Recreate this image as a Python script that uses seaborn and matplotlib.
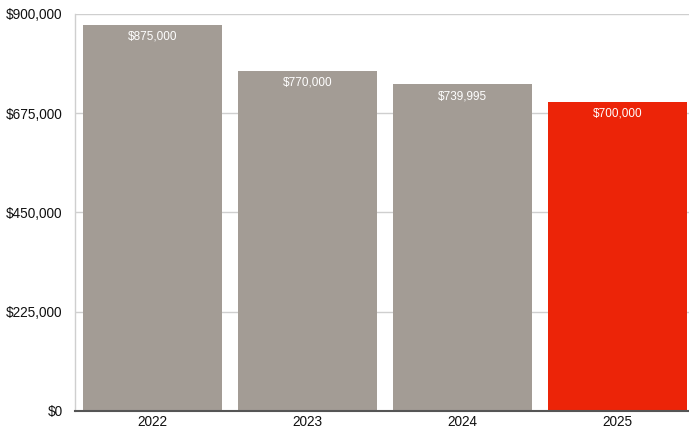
import pandas as pd
import seaborn as sns
import matplotlib.pyplot as plt
from matplotlib.ticker import FuncFormatter

years = ["2022", "2023", "2024", "2025"]
prices = [875000, 770000, 739995, 700000]
bar_colors = ["#a39c95", "#a39c95", "#a39c95", "#ec2408"]
yticks = [0, 225000, 450000, 675000, 900000]

df = pd.DataFrame({"year": years, "price": prices})

sns.set_style("white")
plt.rcParams["font.family"] = ["Liberation Sans", "DejaVu Sans"]

fig = plt.figure(figsize=(6.89, 4.33), dpi=100)
ax = fig.add_axes([0.109, 0.051, 0.891, 0.917])

sns.barplot(data=df, x="year", y="price", hue="year", palette=bar_colors,
            width=0.9, saturation=1, legend=False, ax=ax, zorder=3,
            linewidth=0)

for i, v in enumerate(prices):
    ax.text(i, v - 13000, f"${v:,.0f}", ha="center", va="top",
            color="white", fontsize=8.5, zorder=4)

ax.set_ylim(0, 900000)
ax.set_xlim(-0.5, 3.46)
ax.set_yticks(yticks)
ax.yaxis.set_major_formatter(FuncFormatter(lambda v, p: f"${v:,.0f}"))
ax.grid(axis="y", color="#cfcfcf", linewidth=1, zorder=0)
ax.set_xlabel("")
ax.set_ylabel("")
ax.tick_params(axis="both", length=0, labelsize=9.8, colors="#111111")
ax.tick_params(axis="y", pad=9)
ax.tick_params(axis="x", pad=3)

for s in ["top", "right"]:
    ax.spines[s].set_visible(False)
ax.spines["left"].set_color("#cfcfcf")
ax.spines["left"].set_linewidth(1)
ax.spines["bottom"].set_color("#555555")
ax.spines["bottom"].set_linewidth(1.5)
ax.spines["bottom"].set_zorder(5)

fig.savefig("out.png", dpi=100)
